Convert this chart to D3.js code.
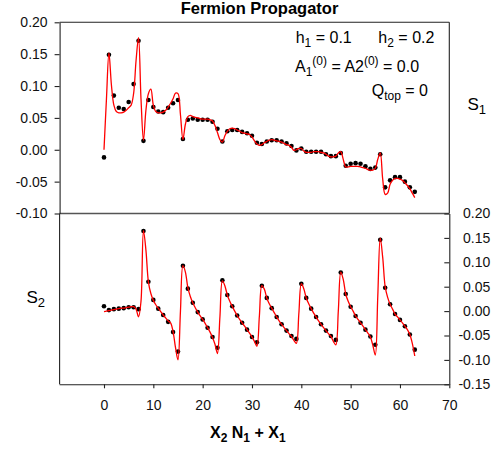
<!DOCTYPE html>
<html>
<head>
<meta charset="utf-8">
<script src="https://cdn.jsdelivr.net/npm/d3@7"></script>
<style>
  html, body { margin: 0; padding: 0; background: #fff; }
  svg { display: block; font-family: "Liberation Sans", Arial, Helvetica, sans-serif; }
</style>
</head>
<body>
<div id="chart"></div>
<script>
// ---- data ----
const xTicks = [0, 10, 20, 30, 40, 50, 60, 70];
const s1Ticks = [-0.10, -0.05, 0.00, 0.05, 0.10, 0.15, 0.20];
const s2Ticks = [-0.15, -0.10, -0.05, 0.00, 0.05, 0.10, 0.15, 0.20];

// lattice points x = 0..63
const s1Points = [
  -0.012, 0.149, 0.085, 0.066, 0.064, 0.075, 0.103, 0.171,
   0.014, 0.078, 0.067, 0.060, 0.059, 0.066, 0.073, 0.078,
   0.017, 0.047, 0.049, 0.047, 0.047, 0.047, 0.044, 0.033,
   0.013, 0.029, 0.031, 0.031, 0.028, 0.026, 0.022, 0.011,
   0.009, 0.013, 0.015, 0.015, 0.013, 0.010, 0.006, -0.001,
   0.002, -0.003, -0.003, -0.003, -0.003, -0.007, -0.010, -0.010,
  -0.005, -0.025, -0.022, -0.021, -0.022, -0.026, -0.030, -0.028,
  -0.007, -0.059, -0.048, -0.043, -0.043, -0.050, -0.059, -0.066
];
const s2Points = [
   0.010, 0.002, 0.004, 0.005, 0.006, 0.008, 0.008, 0.004,
   0.164, 0.060, 0.023, 0.005, -0.008, -0.022, -0.043, -0.083,
   0.093, 0.046, 0.017, -0.002, -0.017, -0.034, -0.053, -0.075,
   0.063, 0.033, 0.010, -0.009, -0.024, -0.038, -0.053, -0.064,
   0.052, 0.027, 0.006, -0.012, -0.027, -0.040, -0.051, -0.057,
   0.056, 0.027, 0.005, -0.012, -0.027, -0.040, -0.051, -0.059,
   0.079, 0.035, 0.009, -0.010, -0.024, -0.038, -0.052, -0.069,
   0.146, 0.048, 0.014, -0.006, -0.018, -0.031, -0.048, -0.079
];

// theory curves sampled every 0.5 from x = 0 to 63
const s1Curve = [
   0.000, 0.080, 0.152, 0.102, 0.070, 0.060, 0.058, 0.058, 0.059, 0.062, 0.066, 0.070, 0.088, 0.140, 0.176, 0.080,
   0.015, 0.062, 0.088, 0.095, 0.070, 0.060, 0.058, 0.058, 0.059, 0.062, 0.067, 0.073, 0.080, 0.089, 0.088, 0.055,
   0.016, 0.040, 0.052, 0.054, 0.052, 0.051, 0.050, 0.049, 0.048, 0.048, 0.048, 0.047, 0.045, 0.038, 0.027, 0.016,
   0.012, 0.022, 0.029, 0.033, 0.034, 0.033, 0.031, 0.029, 0.027, 0.026, 0.025, 0.024, 0.020, 0.014, 0.009, 0.007,
   0.008, 0.011, 0.013, 0.015, 0.016, 0.015, 0.014, 0.013, 0.012, 0.010, 0.008, 0.007, 0.004, -0.001, 0.000, 0.002,
   0.002, -0.002, -0.004, -0.004, -0.004, -0.003, -0.003, -0.003, -0.004, -0.005, -0.007, -0.010, -0.011, -0.011, -0.010, -0.005,
  -0.003, -0.015, -0.027, -0.027, -0.026, -0.026, -0.026, -0.026, -0.027, -0.028, -0.029, -0.031, -0.032, -0.032, -0.029, -0.015,
  -0.005, -0.046, -0.070, -0.068, -0.054, -0.048, -0.045, -0.045, -0.046, -0.048, -0.052, -0.056, -0.061, -0.068, -0.075
];
const s2Curve = [
  -0.001, 0.000, 0.001, 0.002, 0.003, 0.004, 0.005, 0.006, 0.006, 0.007, 0.008, 0.009, 0.009, 0.004, -0.012, 0.020,
   0.165, 0.125, 0.060, 0.036, 0.022, 0.013, 0.006, -0.001, -0.008, -0.014, -0.020, -0.024, -0.042, -0.075, -0.100, 0.000,
   0.093, 0.080, 0.048, 0.030, 0.017, 0.007, -0.002, -0.010, -0.017, -0.025, -0.034, -0.043, -0.054, -0.068, -0.087, -0.012,
   0.062, 0.052, 0.033, 0.020, 0.010, 0.000, -0.009, -0.017, -0.024, -0.031, -0.038, -0.045, -0.053, -0.062, -0.072, -0.010,
   0.052, 0.045, 0.027, 0.015, 0.006, -0.003, -0.012, -0.020, -0.027, -0.034, -0.040, -0.046, -0.052, -0.060, -0.066, -0.005,
   0.056, 0.046, 0.027, 0.015, 0.005, -0.004, -0.012, -0.020, -0.027, -0.034, -0.040, -0.046, -0.052, -0.062, -0.069, 0.000,
   0.080, 0.065, 0.035, 0.020, 0.009, 0.000, -0.010, -0.017, -0.024, -0.031, -0.038, -0.045, -0.053, -0.070, -0.090, 0.030,
   0.150, 0.110, 0.050, 0.028, 0.014, 0.004, -0.006, -0.012, -0.018, -0.024, -0.031, -0.038, -0.048, -0.066, -0.092
];

// ---- layout ----
const W = 493, H = 450;
const L = 59.6, R = 449.3, T = 22.3, M = 213.5, B = 384.3;

const svg = d3.select("#chart").append("svg")
  .attr("width", W).attr("height", H);
svg.append("rect").attr("width", W).attr("height", H).attr("fill", "#fff");

const x = d3.scaleLinear().domain([-9, 70]).range([L, R]);
const yTop = d3.scaleLinear().domain([-0.10, 0.20]).range([M, T]);
const yBot = d3.scaleLinear().domain([-0.15, 0.20]).range([B, M]);

const fmt = d => d.toFixed(2);
const lineCol = "#222";

// frame lines
const frame = svg.append("g").attr("stroke", lineCol).attr("stroke-width", 1.1).attr("fill", "none");
frame.append("line").attr("x1", L).attr("x2", R).attr("y1", T).attr("y2", T);
frame.append("line").attr("x1", R).attr("x2", R).attr("y1", T).attr("y2", M);
frame.append("line").attr("x1", L).attr("x2", L).attr("y1", M).attr("y2", B);
svg.append("line").attr("x1", L).attr("x2", R).attr("y1", M).attr("y2", M)
  .attr("stroke", "#555").attr("stroke-width", 1.4);

function styleAxis(g) {
  g.select(".domain").attr("stroke", lineCol).attr("stroke-width", 1.1);
  g.selectAll(".tick line").attr("stroke", lineCol).attr("stroke-width", 1.1);
  g.selectAll(".tick text").attr("fill", "#111")
    .style("font-size", "14px").style("font-family", "'Liberation Sans', Arial, sans-serif");
}

// top-left axis (S1)
svg.append("g").attr("transform", `translate(${L},0)`)
  .call(d3.axisLeft(yTop).tickValues(s1Ticks).tickFormat(fmt).tickSizeInner(5).tickSizeOuter(0).tickPadding(7))
  .call(styleAxis);

// bottom-right axis (S2), ticks inward
const ra = svg.append("g").attr("transform", `translate(${R},0)`)
  .call(d3.axisRight(yBot).tickValues(s2Ticks).tickFormat(fmt).tickSizeInner(-5).tickSizeOuter(0).tickPadding(8))
  .call(styleAxis);
ra.selectAll(".tick text").attr("text-anchor", "end").attr("x", 41);

// bottom x axis
svg.append("g").attr("transform", `translate(0,${B})`)
  .call(d3.axisBottom(x).tickValues(xTicks).tickFormat(d3.format("d")).tickSizeInner(4).tickSizeOuter(0).tickPadding(11.5))
  .call(styleAxis)
  .call(g => g.select(".domain").attr("d", `M${L},0.5H${R}`));

// clip paths
const defs = svg.append("defs");
defs.append("clipPath").attr("id", "cTop").append("rect")
  .attr("x", L).attr("y", T).attr("width", R - L).attr("height", M - T);
defs.append("clipPath").attr("id", "cBot").append("rect")
  .attr("x", L).attr("y", M).attr("width", R - L).attr("height", B - M);

const ptX = d3.range(s1Points.length);
const cvX = d3.range(s1Curve.length).map(i => i / 2);

function drawPanel(points, curve, y, clip) {
  const g = svg.append("g").attr("clip-path", `url(#${clip})`);
  g.selectAll("circle").data(points).join("circle")
    .attr("cx", (d, i) => x(ptX[i]))
    .attr("cy", d => y(d))
    .attr("r", 2.3)
    .attr("fill", "#000");
  const line = d3.line()
    .x((d, i) => x(cvX[i]))
    .y(d => y(d))
    .curve(d3.curveCatmullRom.alpha(0.5));
  g.append("path").datum(curve)
    .attr("d", line)
    .attr("fill", "none")
    .attr("stroke", "#ff0000")
    .attr("stroke-width", 1.3)
    .attr("stroke-linejoin", "round");
}
drawPanel(s1Points, s1Curve, yTop, "cTop");
drawPanel(s2Points, s2Curve, yBot, "cBot");

// ---- texts ----
const txt = svg.append("g").attr("fill", "#000")
  .style("font-family", "'Liberation Sans', Arial, sans-serif");

txt.append("text").attr("x", 259.5).attr("y", 14).attr("text-anchor", "middle")
  .style("font-size", "16.5px").style("font-weight", "bold").text("Fermion Propagator");

// h1 = 0.1   h2 = 0.2
let t1 = txt.append("text").attr("x", 295.7).attr("y", 42.7).style("font-size", "16px");
t1.append("tspan").text("h");
t1.append("tspan").attr("dy", 4).style("font-size", "12px").text("1");
t1.append("tspan").attr("dy", -4).text(" = 0.1");
let t2 = txt.append("text").attr("x", 378.3).attr("y", 42.7).style("font-size", "16px");
t2.append("tspan").text("h");
t2.append("tspan").attr("dy", 4).style("font-size", "12px").text("2");
t2.append("tspan").attr("dy", -4).text(" = 0.2");

// A1(0) = A2(0) = 0.0
let t3 = txt.append("text").attr("x", 295).attr("y", 71.7).style("font-size", "16px");
t3.append("tspan").text("A");
t3.append("tspan").attr("dy", 4).style("font-size", "12px").text("1");
t3.append("tspan").attr("dy", -11).style("font-size", "12px").text("(0)");
t3.append("tspan").attr("dy", 7).text(" = A2");
t3.append("tspan").attr("dy", -7).style("font-size", "12px").text("(0)");
t3.append("tspan").attr("dy", 7).text(" = 0.0");

// Qtop = 0
let t4 = txt.append("text").attr("x", 371.7).attr("y", 96).style("font-size", "16px");
t4.append("tspan").text("Q");
t4.append("tspan").attr("dy", 4).style("font-size", "12px").text("top");
t4.append("tspan").attr("dy", -4).text(" = 0");

// S1, S2
let s1 = txt.append("text").attr("x", 467.5).attr("y", 110).style("font-size", "17px");
s1.append("tspan").text("S");
s1.append("tspan").attr("dy", 4).style("font-size", "13px").text("1");
let s2 = txt.append("text").attr("x", 26.5).attr("y", 303).style("font-size", "17px");
s2.append("tspan").text("S");
s2.append("tspan").attr("dy", 4).style("font-size", "13px").text("2");

// x label
let xl = txt.append("text").attr("x", 210).attr("y", 438.3)
  .style("font-size", "16px").style("font-weight", "bold");
xl.append("tspan").text("X");
xl.append("tspan").attr("dy", 4).style("font-size", "12px").text("2");
xl.append("tspan").attr("dy", -4).text(" N");
xl.append("tspan").attr("dy", 4).style("font-size", "12px").text("1");
xl.append("tspan").attr("dy", -4).text(" + X");
xl.append("tspan").attr("dy", 4).style("font-size", "12px").text("1");
</script>
</body>
</html>
